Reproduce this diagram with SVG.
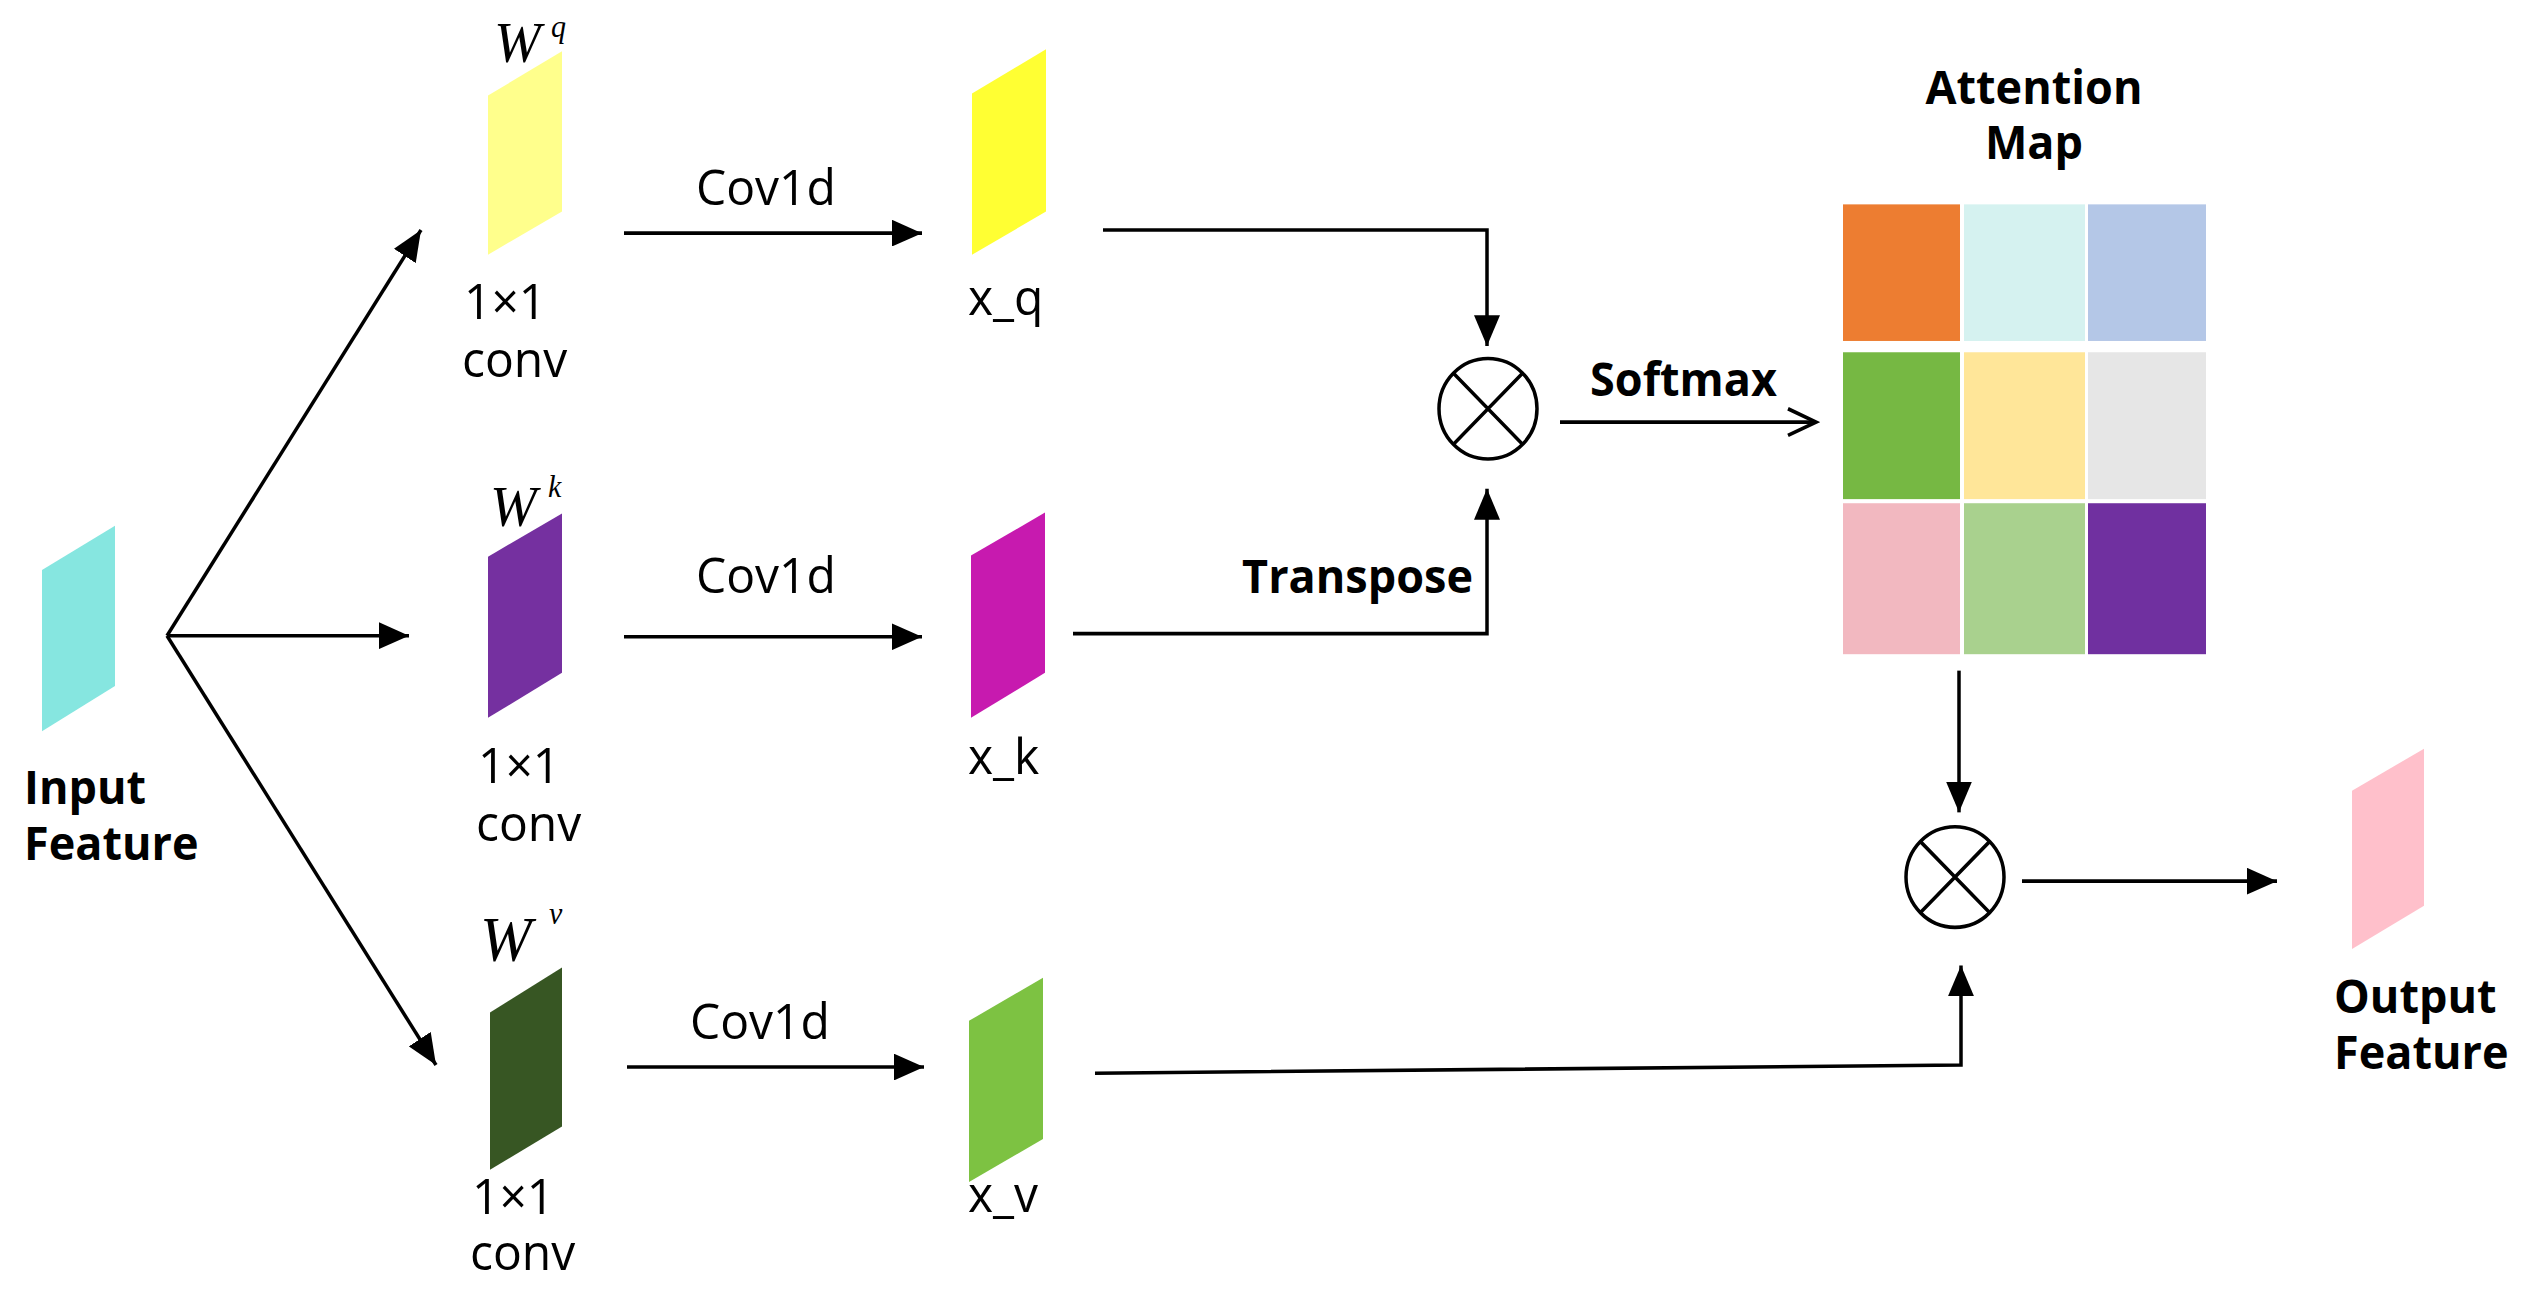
<svg xmlns="http://www.w3.org/2000/svg" width="2531" height="1310" viewBox="0 0 2531 1310">
<style>
.t{font-family:"Open Sans","Noto Sans",sans-serif;font-size:48px;fill:#000}
.b{font-family:"Open Sans","Noto Sans",sans-serif;font-size:45px;font-weight:bold;fill:#000}
.w{font-family:"Liberation Serif",serif;font-style:italic;fill:#000}
.ln{stroke:#000;stroke-width:3.5;fill:none}
.c{stroke:#000;stroke-width:3.5;fill:#fff}
</style>
<defs>
<marker id="ah2" markerWidth="32" markerHeight="26" refX="30" refY="13" orient="auto" markerUnits="userSpaceOnUse">
<path d="M0,0 L30,13 L0,26 z" fill="#000"/>
</marker>
<marker id="open" markerWidth="34" markerHeight="30" refX="30" refY="15" orient="auto" markerUnits="userSpaceOnUse">
<path d="M2,2 L30,15 L2,28" fill="none" stroke="#000" stroke-width="3.5"/>
</marker>
</defs>
<g transform="scale(1,1.027)">
<g id="input"><polygon points="42,555 115,512 115,668 42,712" fill="#86E6E0"/>
<text class="b" x="24" y="783">Input</text><text class="b" x="24" y="837">Feature</text></g>
<g id="wq"><polygon points="488,93 562,50 562,206 488,248" fill="#FFFF8C"/>
<text class="w" x="494" y="60" font-size="56">W</text><text class="w" x="551" y="36" font-size="30">q</text>
<text class="t" x="464" y="311">1×1</text><text class="t" x="462" y="367">conv</text></g>
<g id="wk"><polygon points="488,542 562,500 562,655 488,699" fill="#7530A0"/>
<text class="w" x="490" y="512" font-size="56">W</text><text class="w" x="548" y="484" font-size="30">k</text>
<text class="t" x="478" y="762">1×1</text><text class="t" x="476" y="819">conv</text></g>
<g id="wv"><polygon points="490,986 562,942 562,1097 490,1139" fill="#375623"/>
<text class="w" x="480" y="936" font-size="62">W</text><text class="w" x="549" y="900" font-size="30">v</text>
<text class="t" x="472" y="1182">1×1</text><text class="t" x="470" y="1237">conv</text></g>
<g id="xq"><polygon points="972,91 1046,48 1046,206 972,248" fill="#FFFF33"/><text class="t" x="968" y="307">x_q</text></g>
<g id="xk"><polygon points="971,541 1045,499 1045,655 971,699" fill="#C71AAF"/><text class="t" x="968" y="754">x_k</text></g>
<g id="xv"><polygon points="969,994 1043,952 1043,1109 969,1151" fill="#7DC242"/><text class="t" x="968" y="1180">x_v</text></g>
<g id="mul1"><circle class="c" cx="1488" cy="398" r="49"/><path class="ln" d="M1453,363 L1523,433 M1523,363 L1453,433"/></g>
<g id="mul2"><circle class="c" cx="1955" cy="854" r="49"/><path class="ln" d="M1920,819 L1990,889 M1990,819 L1920,889"/></g>
<g id="attention">
<text class="b" x="2034" y="101" text-anchor="middle">Attention</text><text class="b" x="2034" y="155" text-anchor="middle">Map</text>
<rect x="1843" y="199" width="117" height="133" fill="#ED7D31"/>
<rect x="1964" y="199" width="121" height="133" fill="#D5F2F0"/>
<rect x="2088" y="199" width="118" height="133" fill="#B4C7E7"/>
<rect x="1843" y="343" width="117" height="143" fill="#76B843"/>
<rect x="1964" y="343" width="121" height="143" fill="#FFE699"/>
<rect x="2088" y="343" width="118" height="143" fill="#E6E6E6"/>
<rect x="1843" y="490" width="117" height="147" fill="#F2B8C0"/>
<rect x="1964" y="490" width="121" height="147" fill="#A9D18E"/>
<rect x="2088" y="490" width="118" height="147" fill="#7030A0"/></g>
<g id="output"><polygon points="2352,770 2424,729 2424,882 2352,924" fill="#FFC0CB"/>
<text class="b" x="2334" y="986">Output</text><text class="b" x="2334" y="1041">Feature</text></g>
<g id="connectors">
<line class="ln" x1="167" y1="619" x2="421" y2="224" marker-end="url(#ah2)"/>
<line class="ln" x1="167" y1="619" x2="409" y2="619" marker-end="url(#ah2)"/>
<line class="ln" x1="167" y1="619" x2="436" y2="1037" marker-end="url(#ah2)"/>
<line class="ln" x1="624" y1="227" x2="922" y2="227" marker-end="url(#ah2)"/>
<line class="ln" x1="624" y1="620" x2="922" y2="620" marker-end="url(#ah2)"/>
<line class="ln" x1="627" y1="1039" x2="924" y2="1039" marker-end="url(#ah2)"/>
<polyline class="ln" points="1103,224 1487,224 1487,337" marker-end="url(#ah2)"/>
<polyline class="ln" points="1073,617 1487,617 1487,476" marker-end="url(#ah2)"/>
<polyline class="ln" points="1095,1045 1961,1037 1961,940" marker-end="url(#ah2)"/>
<line class="ln" x1="1560" y1="411" x2="1816" y2="411" marker-end="url(#open)"/>
<line class="ln" x1="1959" y1="653" x2="1959" y2="791" marker-end="url(#ah2)"/>
<line class="ln" x1="2022" y1="858" x2="2277" y2="858" marker-end="url(#ah2)"/>
<text class="t" x="696" y="200">Cov1d</text>
<text class="t" x="696" y="577">Cov1d</text>
<text class="t" x="690" y="1012">Cov1d</text>
<text class="b" x="1473" y="577" text-anchor="end">Transpose</text>
<text class="b" x="1590" y="386">Softmax</text>
</g>
</g>
</svg>
